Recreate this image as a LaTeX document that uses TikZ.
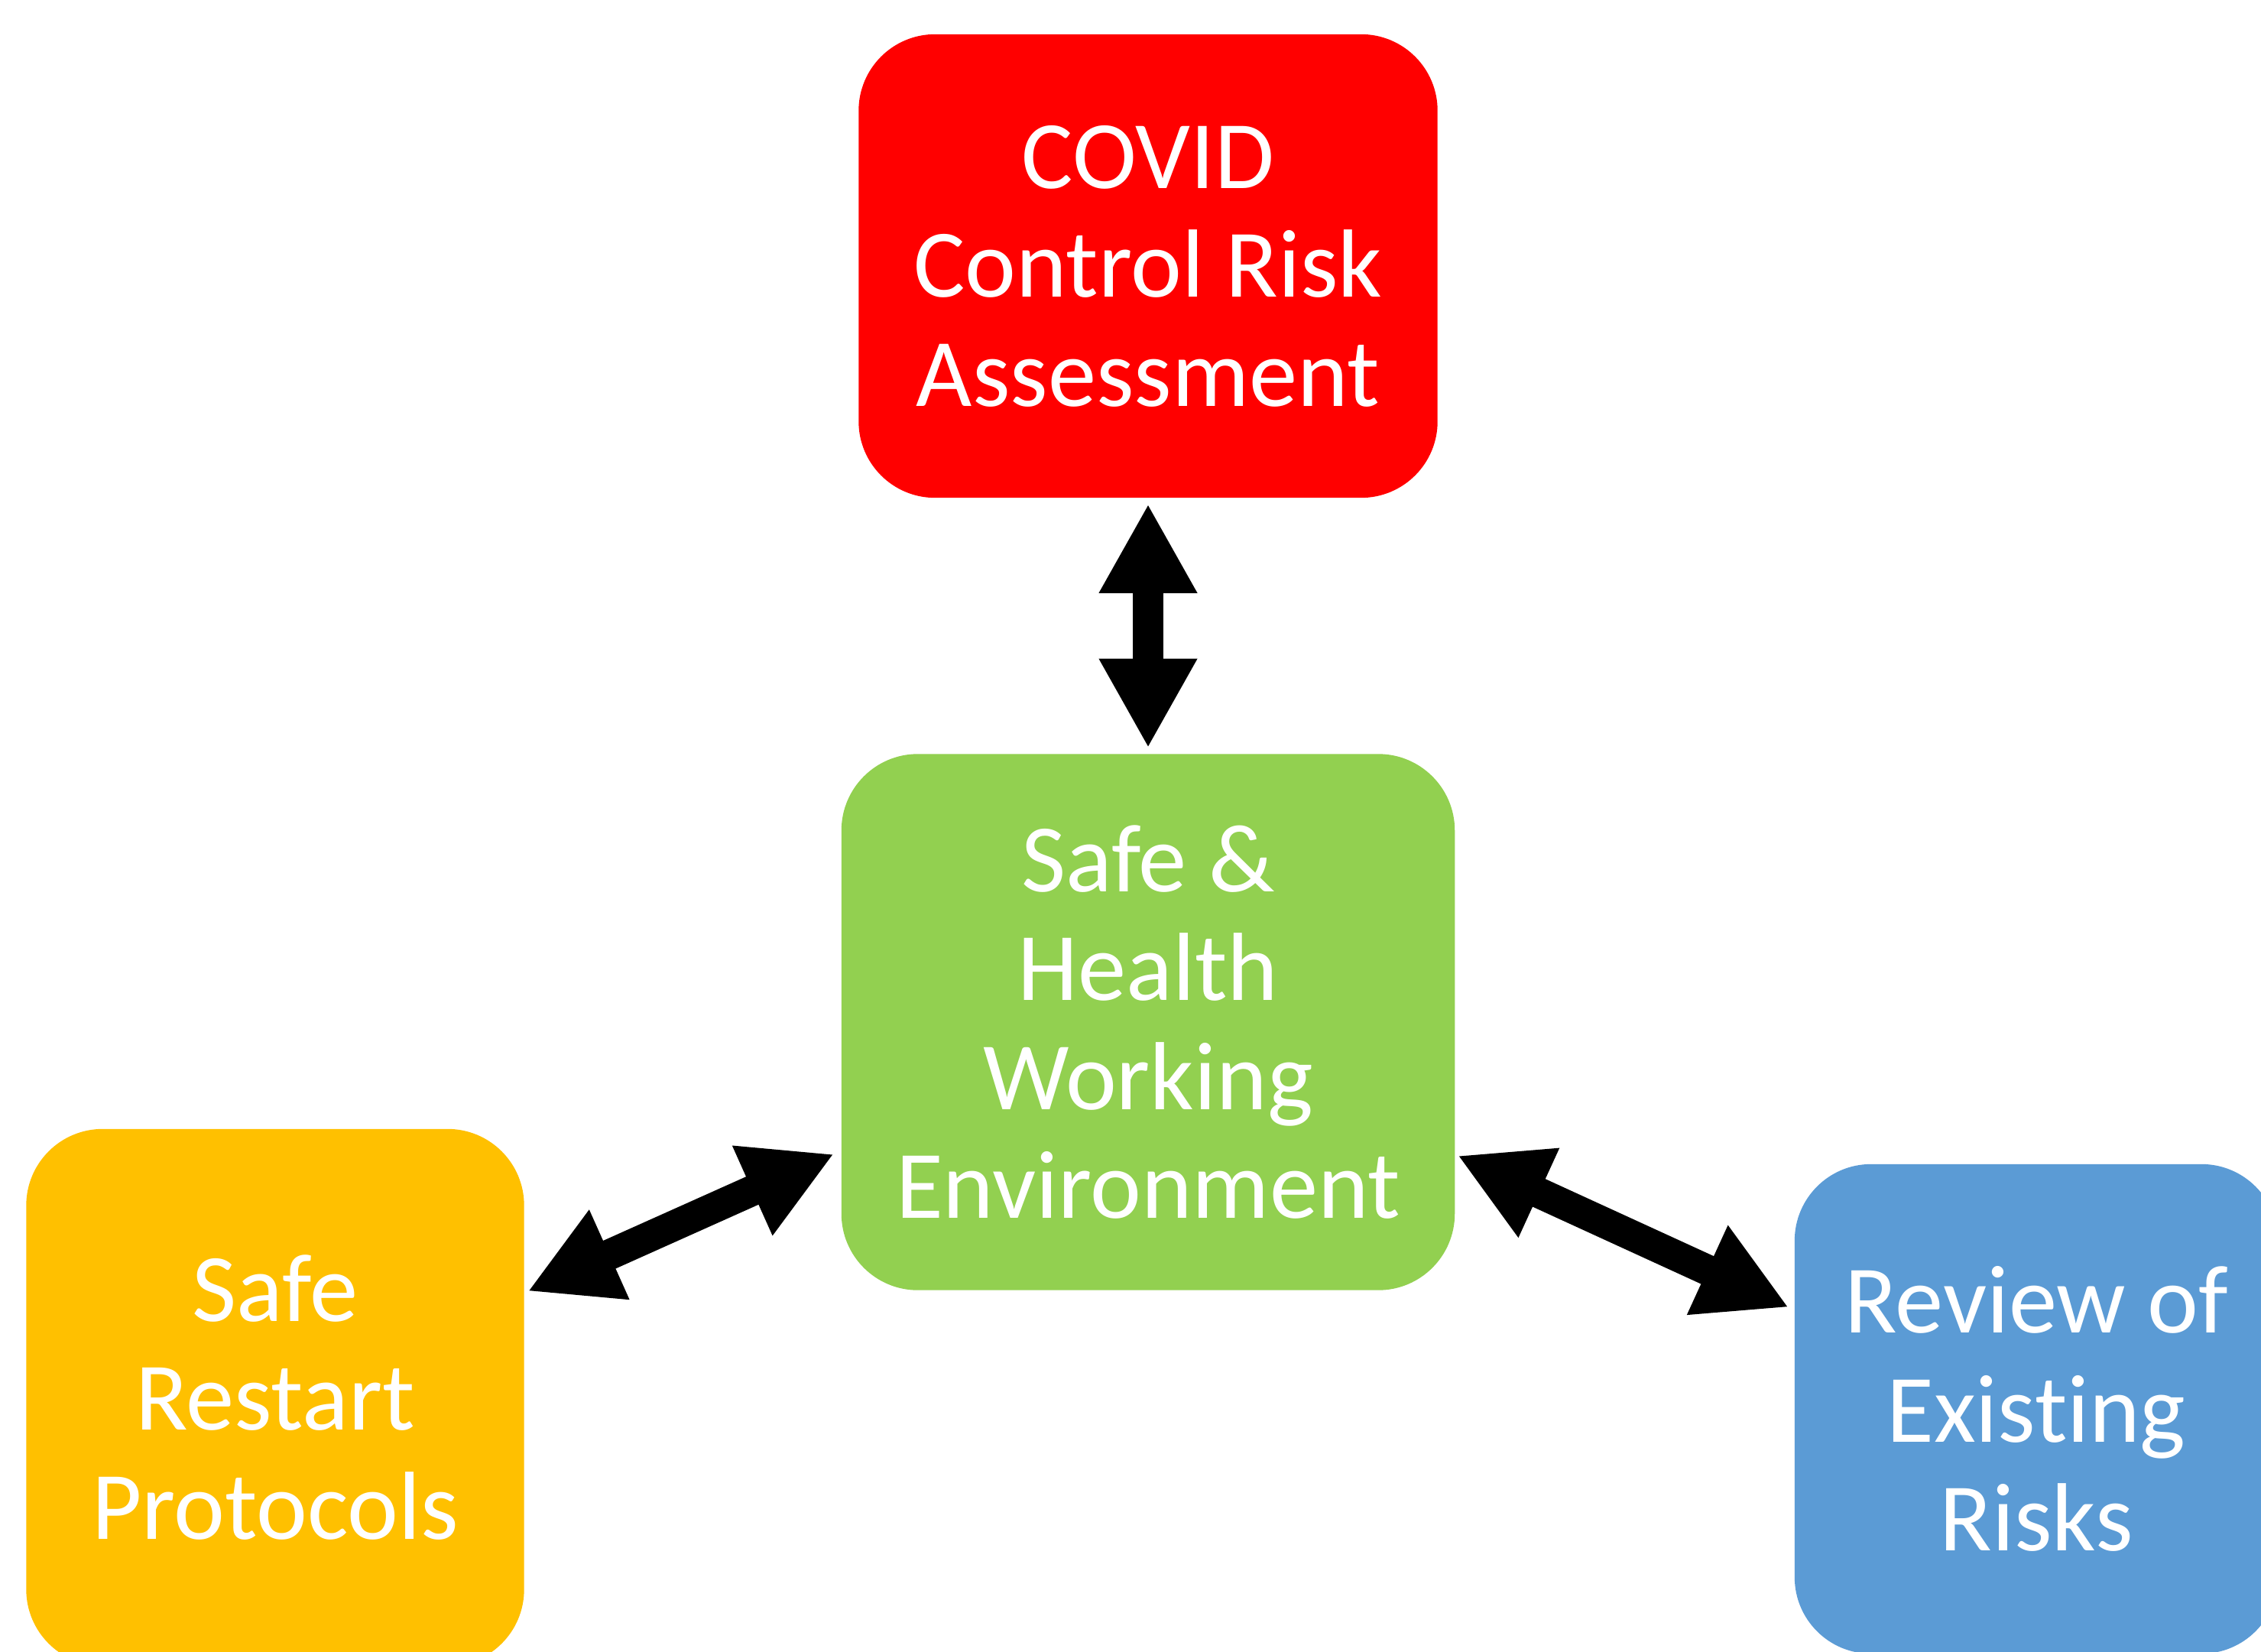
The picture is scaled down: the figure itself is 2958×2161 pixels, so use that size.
\documentclass[tikz,border=0pt]{standalone}
\usepackage{fontspec}
\setmainfont[Ligatures=NoCommon]{Carlito}
\usetikzlibrary{arrows.meta,calc}
\definecolor{cred}{HTML}{FF0000}
\definecolor{cgreen}{HTML}{92D050}
\definecolor{cyellow}{HTML}{FFC000}
\definecolor{cblue}{HTML}{5B9BD5}
\begin{document}
\begin{tikzpicture}[x=0.01cm,y=-0.01cm,
  box/.style={rounded corners=1.0cm, inner sep=0pt, align=center, text=white,
    font=\fontsize{36}{40.5}\selectfont},
  link/.style={line width=0.4cm,
    {Triangle[length=1.17cm,width=1.2cm]}-{Triangle[length=1.17cm,width=1.2cm]}}]
\useasboundingbox (0,0) rectangle (2958,2161);
\clip (0,0) rectangle (2958,2161);
\fill[white] (0,0) rectangle (2958,2161);
\node[box, fill=cred, minimum width=7.57cm, minimum height=6.06cm] (covid) at (1502,348)
  {COVID\\Control Risk\\Assessment};
\node[box, fill=cgreen, minimum width=8.02cm, minimum height=7.01cm] (safe) at (1502,1337)
  {Safe \&\\Health\\Working\\Environment};
\node[box, fill=cyellow, minimum width=6.51cm, minimum height=7.02cm] (yel) at (360,1828)
  {Safe\\Restart\\Protocols};
\node[box, fill=cblue, minimum width=6.32cm, minimum height=6.40cm] (blue) at (2664,1843)
  {Review of\\Existing\\Risks};
\draw[link] ($(covid.south)+(0,7)$) -- ($(safe.north)+(0,-7)$);
\draw[link] ($(yel.north east)+(4,213)$) -- ($(safe.north west)+(-9,524)$);
\draw[link] ($(safe.north east)+(3,526)$) -- ($(blue.north west)+(-7,188)$);
\end{tikzpicture}
\end{document}
